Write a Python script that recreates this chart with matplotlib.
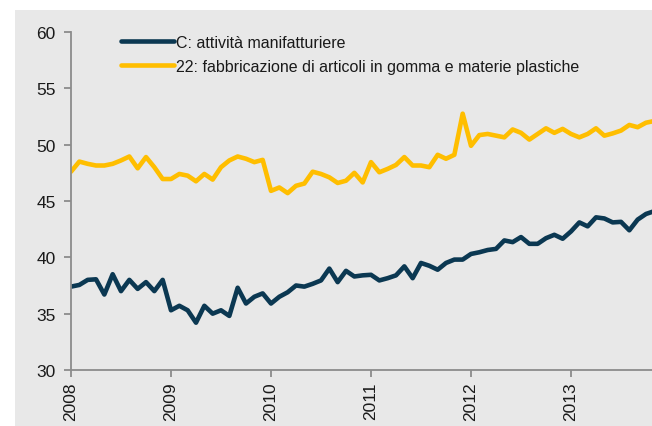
import numpy as np
import matplotlib.pyplot as plt
from matplotlib.patches import Rectangle

plt.rcParams["font.family"] = ["Liberation Sans", "DejaVu Sans"]

# dati mensili, gen 2008 - nov 2013
start_year = 2008
manifattura = [37.4, 37.55, 38.0, 38.05, 36.7, 38.5, 37.0, 38.0, 37.2, 37.8, 37.0, 38.0,
               35.3, 35.7, 35.3, 34.2, 35.7, 35.0, 35.3, 34.8, 37.3, 35.9, 36.5, 36.8,
               35.9, 36.5, 36.9, 37.5, 37.4, 37.65, 37.95, 39.0, 37.8, 38.8, 38.3, 38.4,
               38.45, 37.95, 38.15, 38.4, 39.2, 38.15, 39.5, 39.25, 38.9, 39.5, 39.8, 39.8,
               40.3, 40.45, 40.65, 40.75, 41.5, 41.35, 41.8, 41.2, 41.2, 41.7, 42.0, 41.65,
               42.3, 43.1, 42.75, 43.55, 43.45, 43.1, 43.15, 42.4, 43.35, 43.85, 44.1]
gomma_plastica = [47.6, 48.5, 48.3, 48.15, 48.15, 48.3, 48.6, 48.95, 47.9, 48.9, 48.0, 46.95,
                  46.95, 47.4, 47.25, 46.75, 47.4, 46.9, 48.0, 48.6, 48.95, 48.75, 48.45, 48.65,
                  45.9, 46.2, 45.7, 46.35, 46.55, 47.6, 47.4, 47.1, 46.6, 46.8, 47.5, 46.65,
                  48.45, 47.55, 47.85, 48.2, 48.9, 48.15, 48.15, 48.0, 49.1, 48.75, 49.1, 52.75,
                  49.9, 50.85, 50.95, 50.8, 50.65, 51.35, 51.05, 50.45, 50.95, 51.45, 51.05, 51.4,
                  50.95, 50.65, 50.95, 51.45, 50.8, 51.0, 51.25, 51.75, 51.55, 51.95, 52.1]
etichette = ["C: attività manifatturiere",
             "22: fabbricazione di articoli in gomma e materie plastiche"]
anni = [2008, 2009, 2010, 2011, 2012, 2013]

x = start_year + np.arange(len(manifattura)) / 12.0

fig = plt.figure(figsize=(6.52, 4.27), dpi=100)
fig.patch.set_facecolor("white")
# sfondo grigio del pannello
fig.patches.append(Rectangle((15 / 652, 0), 1, 1 - 11 / 427, transform=fig.transFigure,
                             facecolor="#E8E8E8", edgecolor="none", zorder=-10))

ax = fig.add_axes([71 / 652, 1 - 371 / 427, 1 - 71 / 652, (371 - 33) / 427])
ax.set_facecolor("none")

ax.plot(x, manifattura, color="#0B3852", lw=3.3, label=etichette[0], solid_capstyle="round")
ax.plot(x, gomma_plastica, color="#FFBE00", lw=3.3, label=etichette[1], solid_capstyle="round")

ax.set_xlim(2008, 2008 + (652 - 71) / 100)
ax.set_ylim(30, 60)
ax.set_yticks(range(30, 61, 5))
ax.set_xticks(anni)
ax.set_xticklabels([str(a) for a in anni], rotation=90)

for s in ["top", "right"]:
    ax.spines[s].set_visible(False)
for s in ["left", "bottom"]:
    ax.spines[s].set_color("#8C8C8C")
    ax.spines[s].set_linewidth(1.3)
ax.tick_params(axis="both", colors="#8C8C8C", length=5, width=1.3, labelsize=12.5,
               labelcolor="#1A1A1A")
ax.tick_params(axis="y", pad=6)
ax.tick_params(axis="x", pad=3)

leg = ax.legend(loc="upper left", bbox_to_anchor=(44 / 581, 1.01), frameon=False,
                fontsize=11.5, handlelength=3.3, handletextpad=0.1, labelspacing=0.55,
                borderaxespad=0.0)
for t in leg.get_texts():
    t.set_color("#1A1A1A")

fig.savefig("out.png", dpi=100)
